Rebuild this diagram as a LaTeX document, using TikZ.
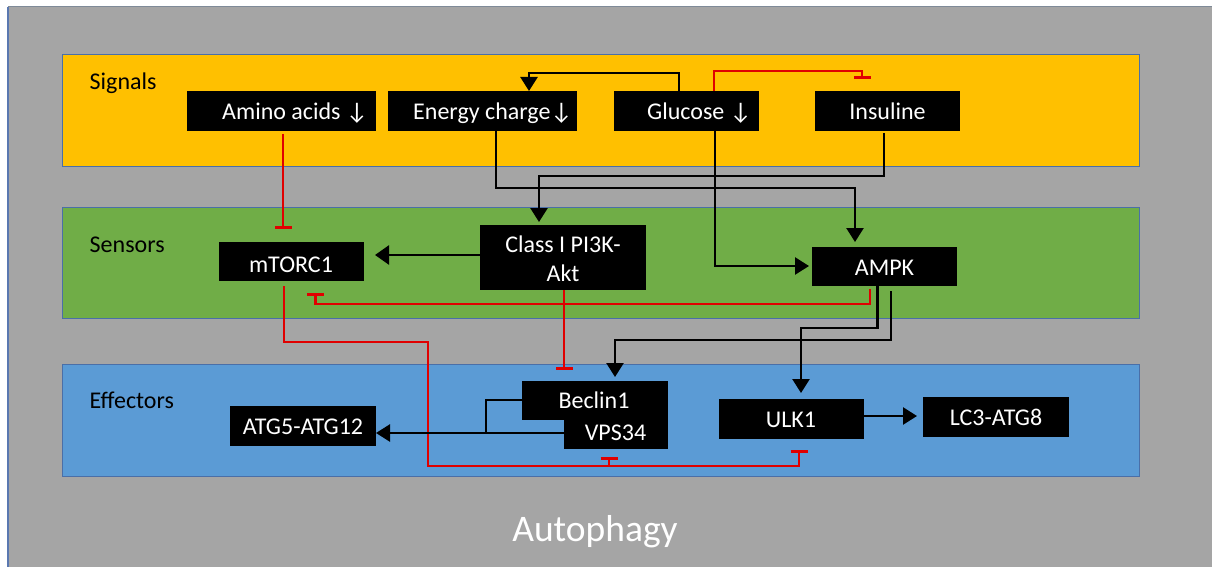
\documentclass[tikz,border=0pt]{standalone}
\usepackage{fontspec}
\setmainfont{Carlito}
\usetikzlibrary{arrows.meta,calc}
\definecolor{bggray}{HTML}{A5A5A5}
\definecolor{leftblue}{HTML}{5A78B0}
\definecolor{topgray}{HTML}{7F8A98}
\definecolor{bandborder}{HTML}{4A6FA8}
\definecolor{yellowband}{HTML}{FFC000}
\definecolor{greenband}{HTML}{70AD47}
\definecolor{blueband}{HTML}{5B9BD5}
\definecolor{inhred}{HTML}{E00000}
\begin{document}
\begin{tikzpicture}[x=1pt,y=-1pt,
  band/.style={draw=bandborder, line width=1pt},
  blackbox/.style={fill=black, draw=none, inner sep=0pt, outer sep=0pt},
  boxtxt/.style={text=white, font=\fontsize{24}{28}\selectfont, inner sep=0pt, text height=15.5pt, text depth=0pt},
  bandlbl/.style={text=black, font=\fontsize{24}{28}\selectfont, inner sep=0pt, text height=15.5pt, text depth=0pt, anchor=west},
  act/.style={line width=2.5pt, draw=black, -{Triangle[length=14pt,width=17pt]}},
  bigact/.style={line width=2.5pt, draw=black, -{Triangle[length=14pt,width=19pt]}},
  plainln/.style={line width=2.5pt, draw=black},
  inh/.style={line width=2.6pt, draw=inhred, -{Bar[width=17pt]}},
  inhln/.style={line width=2.6pt, draw=inhred}]
\useasboundingbox (0,0) rectangle (1212,567);
% background
\fill[bggray] (8,7) rectangle (1212,567);
\draw[line width=1pt, topgray] (8,7) -- (1212,7);
\draw[line width=1.8pt, leftblue] (8,567) -- (8,7);
% bands
\draw[band, fill=yellowband] (62.5,54.5) rectangle (1139,166);
\draw[band, fill=greenband] (62.5,207) rectangle (1139,318);
\draw[band, fill=blueband] (62.5,364) rectangle (1139,476);
\node[bandlbl] (lsig) at (89.5,81.5) {Signals};
\node[bandlbl] (lsen) at (89.5,244.5) {Sensors};
\node[bandlbl] (leff) at (89.5,400.5) {Effectors};
% boxes
\node[blackbox, minimum width=189pt, minimum height=40pt] (amino) at (281.5,111) {};
\node[blackbox, minimum width=189pt, minimum height=40pt] (energy) at (482.5,111) {};
\node[blackbox, minimum width=145pt, minimum height=40pt] (glucose) at (686.5,111) {};
\node[blackbox, minimum width=145pt, minimum height=40pt] (insul) at (887.5,111) {};
\node[blackbox, minimum width=145pt, minimum height=39pt] (mtor) at (291.5,261.5) {};
\node[blackbox, minimum width=166pt, minimum height=65pt] (pi3k) at (563,257.5) {};
\node[blackbox, minimum width=145pt, minimum height=39pt] (ampk) at (884.5,266.5) {};
\node[blackbox, minimum width=146pt, minimum height=40pt] (atg5) at (303,426) {};
\node[blackbox, minimum width=146pt, minimum height=39pt] (beclin) at (595,400.5) {};
\node[blackbox, minimum width=104pt, minimum height=68pt] (vps) at (616,415) {};
\node[blackbox, minimum width=145pt, minimum height=40pt] (ulk) at (791.5,419) {};
\node[blackbox, minimum width=146pt, minimum height=40pt] (lc3) at (996,417) {};
% box texts
\node[boxtxt] (tamino) at (295,111.5) {Amino acids ↓};
\node[boxtxt] (tenergy) at (492.7,111.5) {Energy charge↓};
\node[boxtxt] (tglucose) at (699.4,111.5) {Glucose ↓};
\node[boxtxt] (tinsul) at (887.5,111.5) {Insuline};
\node[boxtxt] (tmtor) at (291,264.5) {mTORC1};
\node[boxtxt] (tpi3ka) at (563,245) {Class I PI3K-};
\node[boxtxt] (tpi3kb) at (563,273.3) {Akt};
\node[boxtxt] (tampk) at (884.5,268) {AMPK};
\node[boxtxt] (tatg5) at (303,427) {ATG5-ATG12};
\node[boxtxt] (tbeclin) at (594,401) {Beclin1};
\node[boxtxt] (tvps) at (615.5,433) {VPS34};
\node[boxtxt] (tulk) at (791,419.5) {ULK1};
\node[boxtxt] (tlc3) at (996,418) {LC3-ATG8};
% title
\node[text=white, font=\fontsize{37.5}{44}\selectfont, inner sep=0pt, anchor=base] (auto) at (595,541) {Autophagy};
% connectors
\draw[inh] ($(amino.south)+(1.5,3)$) -- ($(mtor.north)+(-8.5,-13)$);
\draw[act] ($(glucose.north)+(-7.5,0)$) -- ++(0,-18) -| ($(energy.north)+(46.5,0)$);
\draw[inh] ($(glucose.north)+(27.5,0)$) -- ++(0,-20) -| ($(insul.north)+(-25.5,-12)$);
\draw[act] ($(energy.south)+(13.5,0)$) -- ++(0,57) -| ($(ampk.north)+(-29.5,-5)$);
\draw[act] ($(insul.south)+(-3.5,2)$) -- ++(0,43) -| ($(pi3k.north)+(-24,-3)$);
\draw[act] ($(glucose.south)+(28.5,0)$) |- ($(ampk.west)+(-3,-0.5)$);
\draw[bigact] ($(pi3k.west)+(0,-2.5)$) -- ($(mtor.east)+(11,-6.5)$);
\draw[inh] ($(ampk.south)+(-14.5,3)$) -- ++(0,15) -| ($(mtor.south)+(24,12)$);
\draw[inh] ($(mtor.south)+(-7.5,5)$) -- ++(0,56) -| ++(144,124) -| ($(ulk.south)+(7.5,11)$);
\draw[inh] ($(vps.south)+(-7,17)$) -- ($(vps.south)+(-7,8)$);
\draw[inh] ($(pi3k.south)+(1,0)$) -- ($(beclin.north)+(-31,-11)$);
\draw[act] ($(ampk.south)+(-7,0)$) -- ++(0,42) -| ($(ulk.north)+(9.5,-6)$);
\draw[act] ($(ampk.south)+(6.5,5)$) -- ++(0,49) -| ($(beclin.north)+(20,-4)$);
\draw[act] ($(vps.west)+(0,18)$) -- ($(atg5.east)+(0,7)$);
\draw[plainln] ($(beclin.west)+(0,-0.5)$) -| ($(atg5.east)+(110,7)$);
\draw[act] ($(ulk.east)+(0,-3)$) -- ($(lc3.west)+(-6,-1)$);
\end{tikzpicture}
\end{document}
